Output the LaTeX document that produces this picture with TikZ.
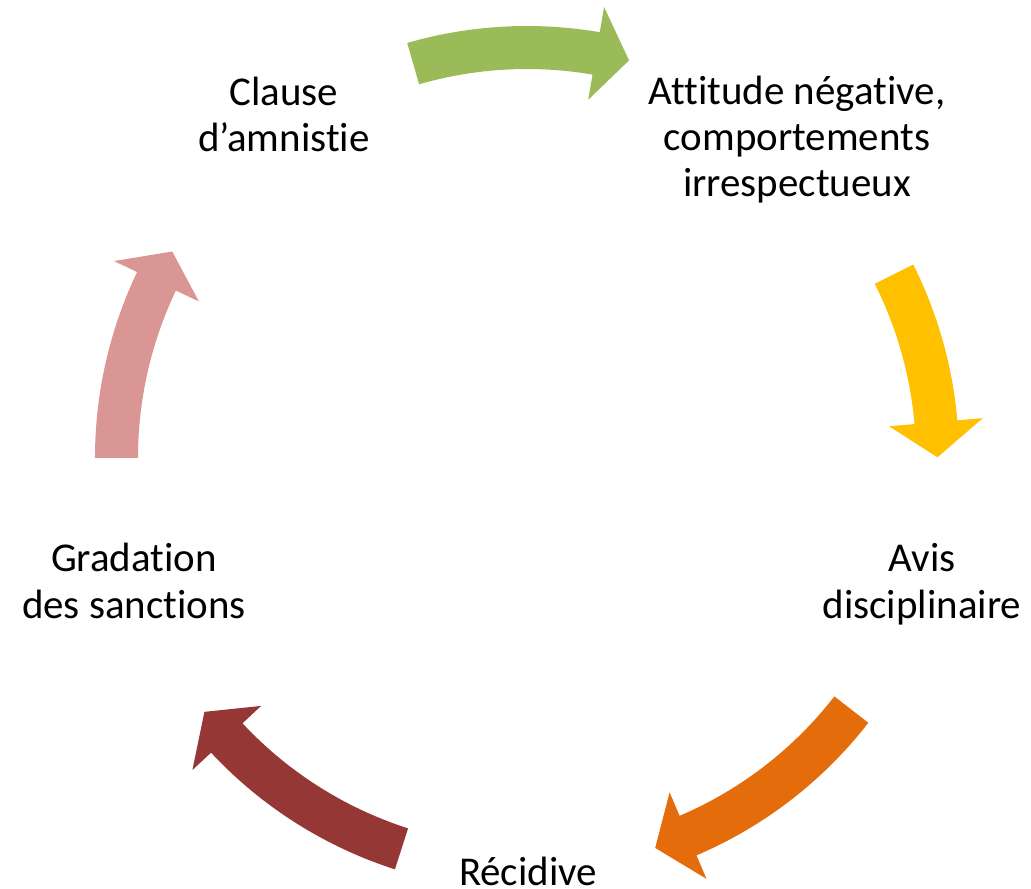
\documentclass[tikz,border=0pt]{standalone}
\usepackage{fontspec}
\setmainfont{Carlito}[Ligatures={TeX,NoCommon}]
\usepackage{xcolor}
\usepackage{tikz}
\usetikzlibrary{positioning}

\definecolor{arrowgreen}{HTML}{9BBB59}
\definecolor{arrowyellow}{HTML}{FFC000}
\definecolor{arroworange}{HTML}{E46C0A}
\definecolor{arrowred}{HTML}{953735}
\definecolor{arrowpink}{HTML}{D99694}

\begin{document}
\begin{tikzpicture}[
    x=0.02cm, y=0.02cm,
    stage/.style={align=center, inner sep=0pt, anchor=base, font=\fontsize{23.3pt}{26.2pt}\selectfont},
    cyclearrow/.style={draw=none}
]
    \useasboundingbox (-527,-431) rectangle (504,458);

    \node[stage] (clause) at (-243,306) {Clause\\d’amnistie};
    \node[stage] (attitude) at (270,261) {Attitude négative,\\comportements\\irrespectueux};
    \node[stage] (avis) at (395,-160) {Avis\\disciplinaire};
    \node[stage] (recidive) at (1,-427) {Récidive};
    \node[stage] (gradation) at (-393,-160) {Gradation\\des sanctions};

    \fill[cyclearrow, arrowgreen] (106.1:432) arc[start angle=106.1, end angle=80.3, radius=432] -- (80.3:457.5) -- (75.6:410.5) -- (80.3:363.5) -- (80.3:389) arc[start angle=80.3, end angle=106.1, radius=389] -- cycle;
    \fill[cyclearrow, arrowyellow] (26.6:432) arc[start angle=26.6, end angle=5, radius=432] -- (5:457.5) -- (0.1:410.5) -- (5:363.5) -- (5:389) arc[start angle=5, end angle=26.6, radius=389] -- cycle;
    \fill[cyclearrow, arroworange] (-37.8:432) arc[start angle=-37.8, end angle=-66.9, radius=432] -- (-66.9:457.5) -- (-71.8:410.5) -- (-66.9:363.5) -- (-66.9:389) arc[start angle=-66.9, end angle=-37.8, radius=389] -- cycle;
    \fill[cyclearrow, arrowred] (-107.8:432) arc[start angle=-107.8, end angle=-137, radius=432] -- (-137:457.5) -- (-141.8:410.5) -- (-137:363.5) -- (-137:389) arc[start angle=-137, end angle=-107.8, radius=389] -- cycle;
    \fill[cyclearrow, arrowpink] (180:432) arc[start angle=180, end angle=154.5, radius=432] -- (154.5:457.5) -- (149.8:410.5) -- (154.5:363.5) -- (154.5:389) arc[start angle=154.5, end angle=180, radius=389] -- cycle;
\end{tikzpicture}
\end{document}
